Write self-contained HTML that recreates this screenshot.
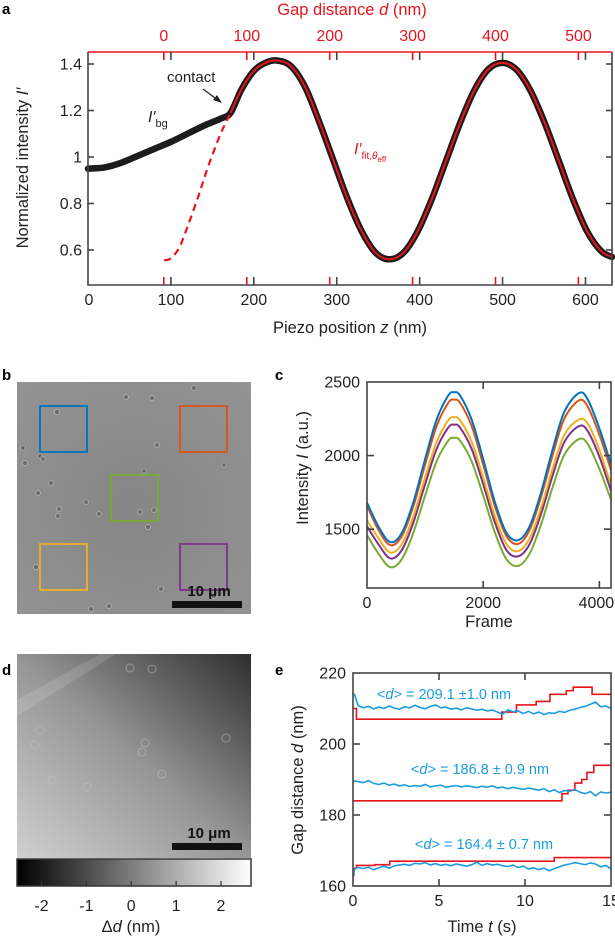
<!DOCTYPE html>
<html><head><meta charset="utf-8"><style>
html,body{margin:0;padding:0;background:#fff;}
svg{display:block;font-family:"Liberation Sans",Arial,sans-serif;}
</style></head><body>
<svg id="fig" width="615" height="938" viewBox="0 0 615 938" xmlns="http://www.w3.org/2000/svg">
<defs>
<linearGradient id="dgrad" x1="0" y1="1" x2="1" y2="0">
<stop offset="0" stop-color="#d0d0d0"/><stop offset="0.5" stop-color="#959595"/><stop offset="1" stop-color="#2e2e2e"/>
</linearGradient>
<linearGradient id="cbar" x1="0" y1="0" x2="1" y2="0">
<stop offset="0" stop-color="#000"/><stop offset="1" stop-color="#fff"/>
</linearGradient>
<radialGradient id="bgrad" cx="0.5" cy="0.55" r="0.7">
<stop offset="0" stop-color="#858585"/><stop offset="1" stop-color="#939393"/>
</radialGradient>
</defs>
<g id="A"></g>
<g id="B"></g>
<g id="C"></g>
<g id="D"></g>
<g id="E"></g>
</svg>
<script>
// ---------- Panel a data ----------
const aBgZ = [0,20,40,60,80,100,120,140,160,172];
const aBgI = [0.95,0.955,0.975,1.005,1.035,1.065,1.10,1.135,1.165,1.19];
const aDashZ = [92,100,110,120,133,145,160,172];
const aDashI = [0.555,0.565,0.61,0.70,0.83,0.96,1.10,1.19];
const aFitZ = [172,185,200,214,228,245,262,279,296,313,330,347,364,381,398,415,432,449,466,483,500,517,534,551,568,585,602,619,632];
const aFitI = [1.19,1.29,1.37,1.405,1.415,1.39,1.30,1.15,0.985,0.82,0.681,0.588,0.56,0.59,0.683,0.822,0.985,1.148,1.287,1.378,1.405,1.375,1.283,1.145,0.982,0.818,0.68,0.595,0.57];
const aXTicks = [0,100,200,300,400,500,600];
const aDTicks = [0,100,200,300,400,500];
const aYTicks = [0.6,0.8,1,1.2,1.4];
const aYLabels = ["0.6","0.8","1","1.2","1.4"];
// ---------- Panel c data ----------
const cFrames = [0,200,400,600,800,1000,1200,1400,1500,1600,1800,2000,2200,2400,2600,2800,3000,3200,3400,3650,3800,4000,4200];
const cBlue   = [1680,1516,1412,1475,1686,1976,2246,2409,2430,2409,2246,1976,1686,1475,1425,1520,1755,2049,2300,2425,2381,2185,1940];
const cOrange = [1660,1493,1391,1453,1658,1939,2202,2359,2380,2359,2202,1939,1658,1453,1400,1495,1725,2010,2254,2375,2332,2142,1900];
const cYellow = [1560,1436,1341,1399,1589,1851,2094,2241,2260,2241,2094,1851,1589,1399,1350,1438,1651,1916,2143,2245,2216,2039,1800];
const cPurple = [1520,1395,1301,1358,1547,1805,2046,2191,2210,2191,2046,1805,1547,1358,1315,1398,1608,1870,2094,2200,2166,1992,1760];
const cGreen  = [1460,1332,1241,1296,1478,1728,1962,2102,2120,2102,1962,1728,1478,1296,1250,1334,1537,1791,2008,2112,2078,1909,1700];
const cXTicks = [0,2000,4000];
const cYTicks = [1500,2000,2500];
// ---------- Panel e data ----------
const eT = [0,0.1,0.3,0.6,0.9,1.2,1.5,1.8,2.1,2.4,2.7,3.0,3.3,3.6,3.9,4.2,4.5,4.8,5.1,5.4,5.7,6.0,6.3,6.6,6.9,7.2,7.5,7.8,8.1,8.4,8.7,9.0,9.3,9.6,9.9,10.2,10.5,10.8,11.1,11.4,11.7,12.0,12.3,12.6,12.9,13.2,13.5,13.8,14.1,14.4,14.7,15.0];
const eBlue1 = [214.3,213.8,210.8,210.2,210.6,209.9,210.4,210.0,210.7,210.1,209.8,210.5,210.2,210.9,210.3,209.9,210.6,211.0,210.2,210.4,209.8,210.1,209.6,210.2,209.9,209.5,209.8,209.3,209.6,209.0,208.4,209.6,209.1,209.3,208.6,209.2,208.5,209.0,208.3,208.8,208.6,209.2,208.9,209.5,209.8,210.3,210.6,211.2,211.8,210.5,210.7,210.0];
const eBlue2 = [189.2,189.6,189.4,189.1,189.7,188.9,188.6,189.0,188.4,188.7,188.2,188.5,188.0,188.3,188.1,188.6,187.9,188.2,188.4,187.8,188.1,188.3,187.9,188.2,188.0,187.7,188.1,187.8,188.2,187.6,187.9,187.4,187.8,187.5,187.2,187.6,187.3,187.0,187.4,186.6,187.1,186.3,186.9,186.7,187.2,186.4,186.0,186.6,185.4,186.5,186.2,186.4];
const eBlue3 = [162.5,164.8,165.2,164.9,165.3,164.6,165.1,165.6,165.0,165.7,165.9,166.1,165.8,166.4,166.2,166.6,165.9,166.3,165.8,166.1,165.7,166.2,165.9,165.6,166.0,166.7,165.8,166.3,165.9,166.1,165.7,165.5,165.9,165.2,165.6,164.8,165.1,164.6,165.0,164.3,164.9,165.4,165.9,166.2,166.6,166.3,166.0,166.5,166.2,165.4,165.8,164.8];
const eRed1T = [0,0.2,8.65,9.5,10.65,11.45,12.4,12.8,13.9,15];
const eRed1V = [210,207,209,211,212,214,215,216,214,214];
const eRed2T = [0,12.15,12.5,12.9,13.3,13.6,14.0,15];
const eRed2V = [184,186,187,189,190,192,194,194];
const eRed3T = [0,0.05,0.2,1.26,2.14,11.7,15];
const eRed3V = [163,165,165.8,166,167,168,168];
const eXTicks = [0,5,10,15];
const eYTicks = [160,180,200,220];

const NS = "http://www.w3.org/2000/svg";
function mk(parent, tag, attrs, text){
  const el = document.createElementNS(NS, tag);
  for (const k in attrs) el.setAttribute(k, attrs[k]);
  if (text !== undefined) el.textContent = text;
  parent.appendChild(el);
  return el;
}
function lin(d0,d1,r0,r1){ return v => r0 + (v-d0)/(d1-d0)*(r1-r0); }
function smooth(pts){
  let d = "M"+pts[0][0].toFixed(2)+","+pts[0][1].toFixed(2);
  for (let i=0;i<pts.length-1;i++){
    const p0=pts[i-1]||pts[i], p1=pts[i], p2=pts[i+1], p3=pts[i+2]||p2;
    const c1=[p1[0]+(p2[0]-p0[0])/6, p1[1]+(p2[1]-p0[1])/6];
    const c2=[p2[0]-(p3[0]-p1[0])/6, p2[1]-(p3[1]-p1[1])/6];
    d += "C"+c1[0].toFixed(2)+","+c1[1].toFixed(2)+" "+c2[0].toFixed(2)+","+c2[1].toFixed(2)+" "+p2[0].toFixed(2)+","+p2[1].toFixed(2);
  }
  return d;
}
function poly(pts){ return "M"+pts.map(p=>p[0].toFixed(2)+","+p[1].toFixed(2)).join("L"); }
function step(ts,vs,x,y){ let d="M"+x(ts[0])+","+y(vs[0]); for(let i=1;i<ts.length;i++){ d+="L"+x(ts[i])+","+y(vs[i-1])+"L"+x(ts[i])+","+y(vs[i]); } return d; }
const AX = "#444";

// ================= Panel A =================
(function(){
  const g = document.getElementById("A");
  const L=88,R=612,T=52,B=285;
  const x = lin(0,632,L,R), y = lin(0.6,1.4,250,64);
  const xd = v => x(v+91.5);
  let t;
  t=mk(g,"text",{x:2,y:14,"font-size":15,"font-weight":"bold"},"a");
   
  // black data (thick)
  const bgPts = aBgZ.map((z,i)=>[x(z),y(aBgI[i])]);
  const fitPts = aFitZ.map((z,i)=>[x(z),y(aFitI[i])]);
  let p=mk(g,"path",{d:smooth(bgPts.slice(0,-1).concat(fitPts)),fill:"none",stroke:"#1c1c1c","stroke-width":6.5,"stroke-linecap":"round","stroke-linejoin":"round"});
   
  p=mk(g,"path",{d:smooth(aDashZ.map((z,i)=>[x(z),y(aDashI[i])])),fill:"none",stroke:"#e8141c","stroke-width":2.2,"stroke-dasharray":"7,5"});
   
  p=mk(g,"path",{d:smooth(fitPts),fill:"none",stroke:"#e8141c","stroke-width":2});
   
  // frame
  p=mk(g,"path",{d:`M${L},${T}L${L},${B}L${R},${B}L${R},${T}`,fill:"none",stroke:AX,"stroke-width":1.6});
   
  p=mk(g,"line",{x1:L,y1:T,x2:R,y2:T,stroke:"#e8141c","stroke-width":1.6});
   
  aYTicks.forEach((v,i)=>{
    mk(g,"line",{x1:L,y1:y(v),x2:L+6,y2:y(v),stroke:AX,"stroke-width":1.6});
    mk(g,"line",{x1:R,y1:y(v),x2:R-6,y2:y(v),stroke:AX,"stroke-width":1.6});
    const tt=mk(g,"text",{x:L-6,y:y(v)+5.5,"font-size":16,"text-anchor":"end",fill:"#222"},aYLabels[i]);
     
  });
  aXTicks.forEach(v=>{
    if(v>0){
      mk(g,"line",{x1:x(v),y1:B,x2:x(v),y2:B-8,stroke:AX,"stroke-width":1.6});
      mk(g,"line",{x1:x(v),y1:T,x2:x(v),y2:T+8,stroke:AX,"stroke-width":1.6});
    }
    const tt=mk(g,"text",{x:x(v)+(v==0?1:0),y:B+20,"font-size":16,"text-anchor":"middle",fill:"#222"},String(v));
     
  });
  aDTicks.forEach(v=>{
    mk(g,"line",{x1:xd(v),y1:B,x2:xd(v),y2:B-8,stroke:"#e8141c","stroke-width":1.6});
    mk(g,"line",{x1:xd(v),y1:T,x2:xd(v),y2:T+8,stroke:"#e8141c","stroke-width":1.6});
    const tt=mk(g,"text",{x:xd(v),y:41,"font-size":16,"text-anchor":"middle",fill:"#e8141c"},String(v));
     
  });
  t=mk(g,"text",{x:352,y:15,"font-size":16.5,"text-anchor":"middle",fill:"#e8141c"});
  t.innerHTML='Gap distance <tspan font-style="italic">d</tspan> (nm)';
   
  t=mk(g,"text",{x:350,y:333,"font-size":16.5,"text-anchor":"middle",fill:"#222"});
  t.innerHTML='Piezo position <tspan font-style="italic">z</tspan> (nm)';
   
  t=mk(g,"text",{x:0,y:0,"font-size":16.5,"text-anchor":"middle",fill:"#222",transform:"translate(28,168) rotate(-90)"});
  t.innerHTML='Normalized intensity <tspan font-style="italic">I′</tspan>';
   
  t=mk(g,"text",{x:167,y:82,"font-size":15,fill:"#222"},"contact");
   
  p=mk(g,"path",{d:"M203,89L219,101",stroke:"#222","stroke-width":1.3,fill:"none"});
   
  mk(g,"path",{d:"M222,103L213,100L217,95Z",fill:"#222"});
  t=mk(g,"text",{x:148,y:122,"font-size":16,fill:"#222"});
  t.innerHTML='<tspan font-style="italic">I′</tspan><tspan font-size="11" dy="5">bg</tspan>';
   
  t=mk(g,"text",{x:354,y:154,"font-size":16,fill:"#e8141c"});
  t.innerHTML='<tspan font-style="italic">I′</tspan><tspan font-size="10" dy="5">fit,</tspan><tspan font-size="10" font-style="italic">θ</tspan><tspan font-size="8" dy="3">eff</tspan>';
   
})();

// ================= Panel B =================
(function(){
  const g = document.getElementById("B");
  let t=mk(g,"text",{x:2,y:380,"font-size":15,"font-weight":"bold"},"b");
   
  let r=mk(g,"rect",{x:17,y:382,width:234,height:232,fill:"url(#bgrad)"});
   
  const parts=[[194,388],[126,397],[152,398],[57,412],[23,448],[40,456],[43,459],[25,463],[157,445],[224,465],[144,471],[51,483],[38,493],[86,502],[59,509],[58,516],[99,514],[140,512],[154,510],[148,527],[36,567],[161,589],[214,596],[109,606],[91,609]];
  parts.forEach(pp=>{ mk(g,"circle",{cx:pp[0],cy:pp[1],r:2.4,fill:"#6a6a6a",stroke:"#b5b5b5","stroke-width":0.8}); });
  const boxes=[[40,406,"#0072bd","roi-blue"],[180,406,"#d95319","roi-orange"],[111,475,"#77ac30","roi-green"],[40,544,"#edb120","roi-yellow"],[180,544,"#7e2f8e","roi-purple"]];
  boxes.forEach(b=>{
    const e=mk(g,"rect",{x:b[0],y:b[1],width:47,height:46,fill:"none",stroke:b[2],"stroke-width":1.8});
     
  });
  r=mk(g,"rect",{x:172,y:601,width:70,height:7,fill:"#111"});
   
  t=mk(g,"text",{x:209,y:596,"font-size":15,"font-weight":"bold","text-anchor":"middle",fill:"#111"},"10 μm");
   
})();

// ================= Panel C =================
(function(){
  const g = document.getElementById("C");
  const L=367,R=611,T=382,B=588;
  const x=lin(0,4200,L,R), y=lin(1100,2500,B,T);
  let t=mk(g,"text",{x:275,y:380,"font-size":15,"font-weight":"bold"},"c");
   
  const series=[[cGreen,"#77ac30","series-green"],[cPurple,"#7e2f8e","series-purple"],[cYellow,"#edb120","series-yellow"],[cOrange,"#d95319","series-orange"],[cBlue,"#0072bd","series-blue"]];
  series.forEach(s=>{
    const p=mk(g,"path",{d:smooth(cFrames.map((f,i)=>[x(f),y(s[0][i])])),fill:"none",stroke:s[1],"stroke-width":2});
     
  });
  let p=mk(g,"rect",{x:L,y:T,width:R-L,height:B-T,fill:"none",stroke:AX,"stroke-width":1.6});
   
  cXTicks.forEach(v=>{
    if(v>0){ mk(g,"line",{x1:x(v),y1:B,x2:x(v),y2:B-7,stroke:AX,"stroke-width":1.6}); mk(g,"line",{x1:x(v),y1:T,x2:x(v),y2:T+7,stroke:AX,"stroke-width":1.6}); }
    const tt=mk(g,"text",{x:x(v)-(v==4000?3:0),y:B+20,"font-size":16,"text-anchor":"middle",fill:"#222"},String(v));
     
  });
  cYTicks.forEach(v=>{
    if(v<2500){ mk(g,"line",{x1:L,y1:y(v),x2:L+7,y2:y(v),stroke:AX,"stroke-width":1.6}); mk(g,"line",{x1:R,y1:y(v),x2:R-7,y2:y(v),stroke:AX,"stroke-width":1.6}); }
    const tt=mk(g,"text",{x:L-7,y:y(v)+5.5,"font-size":16,"text-anchor":"end",fill:"#222"},String(v));
     
  });
  t=mk(g,"text",{x:489,y:627,"font-size":16.5,"text-anchor":"middle",fill:"#222"},"Frame");
   
  t=mk(g,"text",{x:0,y:0,"font-size":16.5,"text-anchor":"middle",fill:"#222",transform:"translate(308,468) rotate(-90)"});
  t.innerHTML='Intensity <tspan font-style="italic">I</tspan> (a.u.)';
   
})();

// ================= Panel D =================
(function(){
  const g = document.getElementById("D");
  let t=mk(g,"text",{x:2,y:675,"font-size":15,"font-weight":"bold"},"d");
   
  let r=mk(g,"rect",{x:17,y:654,width:234,height:204,fill:"url(#dgrad)"});
   
  mk(g,"path",{d:"M17,700L100,654L116,654L17,716Z",fill:"#ffffff","fill-opacity":0.13});
  [[130,668],[152,669],[40,730],[35,745],[145,743],[142,752],[226,738],[52,780],[162,774],[87,787]].forEach(c=>{ mk(g,"circle",{cx:c[0],cy:c[1],r:4,fill:"none",stroke:"#c8c8c8","stroke-width":1,"stroke-opacity":0.5}); });
  r=mk(g,"rect",{x:172,y:843,width:70,height:7,fill:"#111"});
   
  t=mk(g,"text",{x:209,y:838,"font-size":15,"font-weight":"bold","text-anchor":"middle",fill:"#111"},"10 μm");
   
  r=mk(g,"rect",{x:17,y:859,width:234,height:27,fill:"url(#cbar)",stroke:"#333","stroke-width":1.5});
   
  const cb=lin(-2,2,41.5,221);
  [-2,-1,0,1,2].forEach(v=>{
    mk(g,"line",{x1:cb(v),y1:886,x2:cb(v),y2:881,stroke:"#333","stroke-width":1.2});
    const tt=mk(g,"text",{x:cb(v),y:911,"font-size":16,"text-anchor":"middle",fill:"#222"},String(v));
     
  });
  t=mk(g,"text",{x:131,y:932,"font-size":16.5,"text-anchor":"middle",fill:"#222"});
  t.innerHTML='Δ<tspan font-style="italic">d</tspan> (nm)';
   
})();

// ================= Panel E =================
(function(){
  const g = document.getElementById("E");
  const L=353,R=611,T=673,B=886;
  const x=lin(0,15,L,R), y=lin(160,220,B,T);
  let t=mk(g,"text",{x:275,y:675,"font-size":15,"font-weight":"bold"},"e");
   
  const reds=[[eRed1T,eRed1V,"set-distance-1"],[eRed2T,eRed2V,"set-distance-2"],[eRed3T,eRed3V,"set-distance-3"]];
  reds.forEach(s=>{ const p=mk(g,"path",{d:step(s[0],s[1],x,y),fill:"none",stroke:"#e8141c","stroke-width":1.6});   });
  const blues=[[eBlue1,"measured-distance-1"],[eBlue2,"measured-distance-2"],[eBlue3,"measured-distance-3"]];
  blues.forEach(s=>{ const p=mk(g,"path",{d:poly(eT.map((tt,i)=>[x(tt),y(s[0][i])])),fill:"none",stroke:"#1a9de0","stroke-width":1.6});   });
  let p=mk(g,"rect",{x:L,y:T,width:R-L,height:B-T,fill:"none",stroke:AX,"stroke-width":1.6});
   
  eXTicks.forEach(v=>{
    if(v>0&&v<15){ mk(g,"line",{x1:x(v),y1:B,x2:x(v),y2:B-7,stroke:AX,"stroke-width":1.6}); mk(g,"line",{x1:x(v),y1:T,x2:x(v),y2:T+7,stroke:AX,"stroke-width":1.6}); }
    const tt=mk(g,"text",{x:x(v),y:B+20,"font-size":16,"text-anchor":"middle",fill:"#222"},String(v));
     
  });
  eYTicks.forEach(v=>{
    if(v>160&&v<220){ mk(g,"line",{x1:L,y1:y(v),x2:L+7,y2:y(v),stroke:AX,"stroke-width":1.6}); mk(g,"line",{x1:R,y1:y(v),x2:R-7,y2:y(v),stroke:AX,"stroke-width":1.6}); }
    const tt=mk(g,"text",{x:L-7,y:y(v)+5.5,"font-size":16,"text-anchor":"end",fill:"#222"},String(v));
     
  });
  const labs=[[444,699,"209.1 ±1.0 nm","mean-label-1"],[480,774,"186.8 ± 0.9 nm","mean-label-2"],[484,849,"164.4 ± 0.7 nm","mean-label-3"]];
  labs.forEach(l=>{ const tt=mk(g,"text",{x:l[0],y:l[1],"font-size":14.5,"text-anchor":"middle",fill:"#1a9de0"}); tt.innerHTML='&lt;<tspan font-style="italic">d</tspan>&gt; = '+l[2];   });
  t=mk(g,"text",{x:482,y:932,"font-size":16.5,"text-anchor":"middle",fill:"#222"});
  t.innerHTML='Time <tspan font-style="italic">t</tspan> (s)';
   
  t=mk(g,"text",{x:0,y:0,"font-size":16.5,"text-anchor":"middle",fill:"#222",transform:"translate(303,780) rotate(-90)"});
  t.innerHTML='Gap distance <tspan font-style="italic">d</tspan> (nm)';
   
})();
</script>
</body></html>
